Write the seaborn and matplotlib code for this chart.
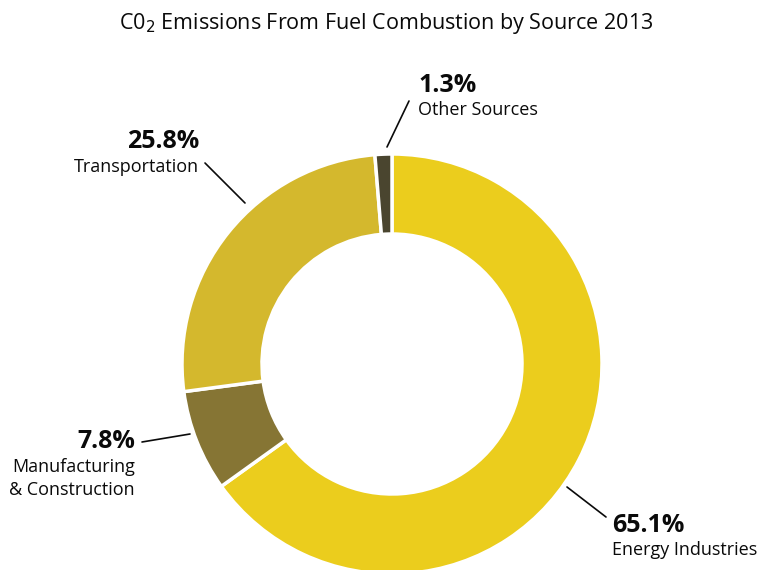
import matplotlib
matplotlib.use("Agg")
import matplotlib.pyplot as plt
import seaborn as sns

sources = ["Energy Industries", "Manufacturing\n& Construction", "Transportation", "Other Sources"]
shares = [65.1, 7.8, 25.8, 1.3]
pct_labels = ["65.1%", "7.8%", "25.8%", "1.3%"]
colors = ["#EBCD1D", "#867534", "#D4B82D", "#4A452F"]

sns.set_theme(style="white")
plt.rcParams["font.family"] = ["Open Sans", "DejaVu Sans"]

W, H = 760, 570
fig = plt.figure(figsize=(7.6, 5.7), dpi=100)
ax = fig.add_axes([0, 0, 1, 1])

cx, cy, R = 392, H - 364, 210
ax.pie(shares, colors=colors, startangle=90, counterclock=False,
       center=(cx, cy), radius=R,
       wedgeprops=dict(width=80, edgecolor="white", linewidth=2.5))
ax.set_xlim(0, W)
ax.set_ylim(0, H)
ax.set_aspect("equal")
ax.axis("off")

def Y(y):
    return H - y

fig.text(386 / W, 1 - 23 / H, "C0$_2$ Emissions From Fuel Combustion by Source 2013",
         ha="center", va="center", fontsize=15.5, color="#0a0a0a")

# leader lines (pixel coordinates)
lines = [((567, 487), (606, 517)),
         ((190, 434), (142, 442)),
         ((245, 203), (205, 163)),
         ((387, 147), (409, 101))]
for (x0, y0), (x1, y1) in lines:
    ax.plot([x0, x1], [Y(y0), Y(y1)], color="#0a0a0a", lw=1.2)

# text placements: x, y of percentage, y of each label line, alignment
txt = [
    (612, 525, [550], "left"),
    (135, 441, [467, 490], "right"),
    (199, 141, [167], "right"),
    (418, 86, [110], "left"),
]
for (x, yp, yls, ha), p, s in zip(txt, pct_labels, sources):
    ax.text(x, Y(yp), p, ha=ha, va="center", fontsize=18, fontweight="bold", color="#0a0a0a")
    for yl, line in zip(yls, s.split("\n")):
        ax.text(x, Y(yl), line, ha=ha, va="center", fontsize=13, color="#0a0a0a")

fig.savefig("out.png", dpi=100)
